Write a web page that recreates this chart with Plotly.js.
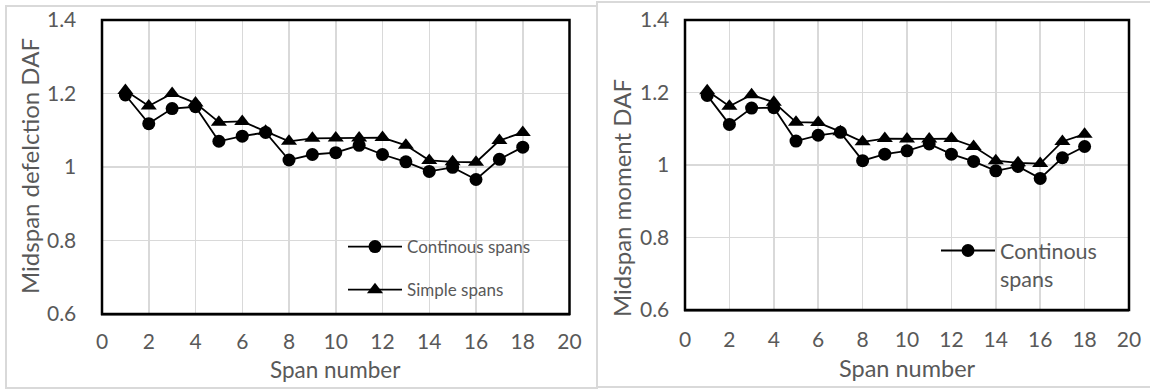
<!DOCTYPE html>
<html>
<head>
<meta charset="utf-8">
<script src="https://cdn.plot.ly/plotly-3.0.1.min.js"></script>
<style>html,body{margin:0;padding:0;background:#fff;}#chart{width:1150px;height:389px;}</style>
</head>
<body>
<div id="chart"></div>
<script>
// Data
var spans = [1,2,3,4,5,6,7,8,9,10,11,12,13,14,15,16,17,18];
var deflContinuous = [1.196,1.118,1.159,1.164,1.070,1.084,1.094,1.019,1.034,1.039,1.059,1.034,1.014,0.988,0.999,0.966,1.021,1.054];
var deflSimple     = [1.208,1.166,1.200,1.174,1.122,1.124,1.097,1.070,1.078,1.079,1.079,1.080,1.059,1.018,1.014,1.013,1.072,1.094];
var momContinuous  = [1.192,1.112,1.157,1.158,1.066,1.082,1.090,1.012,1.030,1.039,1.058,1.030,1.010,0.984,0.996,0.963,1.020,1.051];
var momSimple      = [1.205,1.162,1.194,1.173,1.118,1.117,1.092,1.064,1.073,1.072,1.072,1.073,1.051,1.012,1.006,1.004,1.065,1.085];
var xTicks = [0,2,4,6,8,10,12,14,16,18,20];
var yTicks = [0.6,0.8,1.0,1.2,1.4];
var yTickText = ['0.6','0.8','1','1.2','1.4'];
var seriesNames = ['Continous spans','Simple spans'];

var W = 1150, H = 389;
function fx(px){return px/W;}
function fy(px){return 1 - px/H;}

var FONT = 'Lato, "Open Sans", sans-serif';
var GREY = '#595959';

var lineStyle = {color:'#000', width:1.8};
var circ = {symbol:'circle', size:13, color:'#000'};
var tri = {symbol:'triangle-up', size:14, color:'#000'};

var traces = [
  {x:spans, y:deflContinuous, xaxis:'x', yaxis:'y', mode:'lines+markers', name:seriesNames[0], line:lineStyle, marker:circ, legend:'legend', legendgroup:'a'},
  {x:spans, y:deflSimple, xaxis:'x', yaxis:'y', mode:'lines+markers', name:seriesNames[1], line:lineStyle, marker:tri, legend:'legend', legendgroup:'b'},
  {x:spans, y:momContinuous, xaxis:'x2', yaxis:'y2', mode:'lines+markers', name:'Continous<br>spans', line:lineStyle, marker:circ, legend:'legend2'},
  {x:spans, y:momSimple, xaxis:'x2', yaxis:'y2', mode:'lines+markers', name:seriesNames[1], line:lineStyle, marker:tri, showlegend:false}
];

function xax(domain, anchor, standoff){
  return {domain:domain, anchor:anchor, range:[0,20], tickvals:xTicks, ticktext:xTicks.map(String),
    showgrid:true, gridcolor:'#d9d9d9', gridwidth:1.5, zeroline:false,
    showline:true, linecolor:'#8a8a8a', linewidth:1.5, ticks:'', ticklabelstandoff:standoff,
    tickfont:{family:FONT, size:21, color:GREY}};
}
function yax(domain, anchor, standoff){
  return {domain:domain, anchor:anchor, range:[0.6,1.4], tickvals:yTicks, ticktext:yTickText,
    showgrid:true, gridcolor:'#d9d9d9', gridwidth:1.5, zeroline:false,
    showline:true, linecolor:'#8a8a8a', linewidth:1.5, ticks:'', ticklabelstandoff:standoff,
    tickfont:{family:FONT, size:21, color:GREY}};
}

function ann(x, y, text, angle, size){
  return {xref:'paper', yref:'paper', x:fx(x), y:fy(y), text:text, textangle:angle, showarrow:false,
    font:{family:FONT, size:size, color:GREY}, xanchor:'center', yanchor:'middle'};
}

var layout = {
  width:W, height:H, margin:{l:0,r:0,t:0,b:0}, paper_bgcolor:'#fff', plot_bgcolor:'#fff',
  font:{family:FONT, color:GREY},
  xaxis: xax([fx(102), fx(569.5)], 'y', 8),
  yaxis: yax([fy(314), fy(20)], 'x', 20),
  xaxis2: xax([fx(685), fx(1129)], 'y2', 10),
  yaxis2: yax([fy(310), fy(20)], 'x2', 10),
  legend:{x:fx(343), y:fy(229), xanchor:'left', yanchor:'top', bgcolor:'rgba(0,0,0,0)',
    font:{family:FONT, size:17, color:GREY}, itemwidth:54, tracegroupgap:18, traceorder:'grouped'},
  legend2:{x:fx(936), y:fy(230), xanchor:'left', yanchor:'top', bgcolor:'rgba(0,0,0,0)', valign:'top',
    font:{family:FONT, size:21.5, color:GREY}, itemwidth:54},
  annotations:[
    ann(29, 166, 'Midspan defelction DAF', -90, 24),
    ann(621, 198, 'Midspan moment DAF', -90, 24),
    ann(335.5, 369, 'Span number', 0, 22.5),
    ann(907, 368, 'Span number', 0, 23.5)
  ],
  shapes:[
    {type:'rect', xref:'paper', yref:'paper', x0:fx(6), x1:fx(597), y0:fy(388), y1:fy(6), line:{color:'#d9d9d9', width:2}, layer:'below'},
    {type:'rect', xref:'paper', yref:'paper', x0:fx(597), x1:fx(1160), y0:fy(387), y1:fy(2), line:{color:'#d9d9d9', width:2}, layer:'below'},
    {type:'rect', xref:'x domain', yref:'y domain', x0:0, x1:1, y0:0, y1:1, line:{color:'#000', width:2.5}},
    {type:'rect', xref:'x2 domain', yref:'y2 domain', x0:0, x1:1, y0:0, y1:1, line:{color:'#000', width:2.5}}
  ],
  showlegend:true
};

Plotly.newPlot('chart', traces, layout, {staticPlot:true, displayModeBar:false});
</script>
</body>
</html>
